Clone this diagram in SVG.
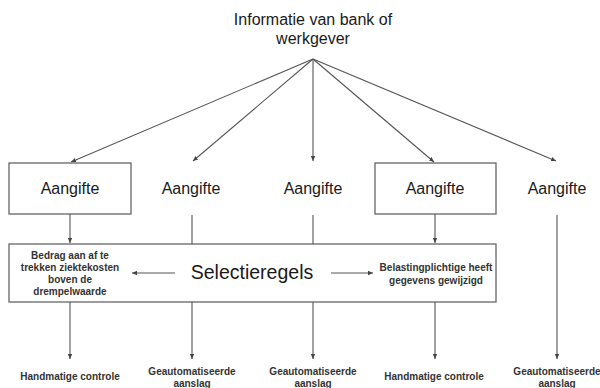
<svg xmlns="http://www.w3.org/2000/svg" width="600" height="388" viewBox="0 0 600 388">
<defs>
<marker id="ah" markerWidth="6" markerHeight="6" refX="5" refY="3" orient="auto" markerUnits="userSpaceOnUse">
<path d="M0,0.8 L5,3 L0,5.2 Z" fill="#444"/>
</marker>
</defs>
<style>
text{font-family:"Liberation Sans",Arial,sans-serif;fill:#1a1a1a;text-anchor:middle}
.t{font-size:16px}
.a{font-size:16px}
.s{font-size:19.5px}
.m{font-size:10px;font-weight:bold;fill:#333}
.b{font-size:10px;font-weight:bold;fill:#333}
.box{fill:#fff;stroke:#666;stroke-width:1.3}
.c line{stroke:#555;stroke-width:1.1}
.c line.ar{marker-end:url(#ah)}
</style>
<rect width="600" height="388" fill="#fff"/>
<g id="bron"><text class="t" x="313" y="25">Informatie van bank of</text><text class="t" x="313" y="44">werkgever</text></g>
<g id="selectie">
<rect class="box" x="9" y="244" width="487" height="58"/>
<text class="s" x="252" y="279">Selectieregels</text>
<text class="m" x="70" y="259">Bedrag aan af te</text>
<text class="m" x="70" y="271">trekken ziektekosten</text>
<text class="m" x="70" y="283">boven de</text>
<text class="m" x="70" y="295">drempelwaarde</text>
<text class="m" x="436" y="271">Belastingplichtige heeft</text>
<text class="m" x="436" y="284">gegevens gewijzigd</text>
</g>
<g id="aangifte1"><rect class="box" x="9" y="163" width="122" height="51"/><text class="a" x="70" y="194">Aangifte</text></g>
<g id="aangifte2"><text class="a" x="191" y="194">Aangifte</text></g>
<g id="aangifte3"><text class="a" x="313" y="194">Aangifte</text></g>
<g id="aangifte4"><rect class="box" x="375" y="163" width="121" height="51"/><text class="a" x="435" y="194">Aangifte</text></g>
<g id="aangifte5"><text class="a" x="557" y="194">Aangifte</text></g>
<g id="uit1"><text class="b" x="70" y="380">Handmatige controle</text></g>
<g id="uit2"><text class="b" x="192" y="375">Geautomatiseerde</text><text class="b" x="192" y="387">aanslag</text></g>
<g id="uit3"><text class="b" x="313" y="375">Geautomatiseerde</text><text class="b" x="313" y="387">aanslag</text></g>
<g id="uit4"><text class="b" x="434" y="380">Handmatige controle</text></g>
<g id="uit5"><text class="b" x="557" y="375">Geautomatiseerde</text><text class="b" x="557" y="387">aanslag</text></g>
<g class="c" id="connectors">
<line class="ar" x1="313" y1="59" x2="71" y2="162"/>
<line class="ar" x1="313" y1="59" x2="193" y2="161"/>
<line class="ar" x1="313" y1="59" x2="313" y2="161"/>
<line class="ar" x1="313" y1="59" x2="434" y2="162"/>
<line class="ar" x1="313" y1="59" x2="556" y2="161"/>
<line class="ar" x1="70" y1="214" x2="70" y2="243"/>
<line x1="192" y1="215" x2="192" y2="244"/>
<line x1="313" y1="215" x2="313" y2="244"/>
<line class="ar" x1="435" y1="214" x2="435" y2="243"/>
<line class="ar" x1="557" y1="215" x2="557" y2="359"/>
<line class="ar" x1="175" y1="273" x2="132" y2="273"/>
<line class="ar" x1="331" y1="273" x2="373" y2="273"/>
<line class="ar" x1="70" y1="302" x2="70" y2="359"/>
<line class="ar" x1="192" y1="302" x2="192" y2="359"/>
<line class="ar" x1="313" y1="302" x2="313" y2="359"/>
<line class="ar" x1="435" y1="302" x2="435" y2="359"/>
</g>
</svg>
